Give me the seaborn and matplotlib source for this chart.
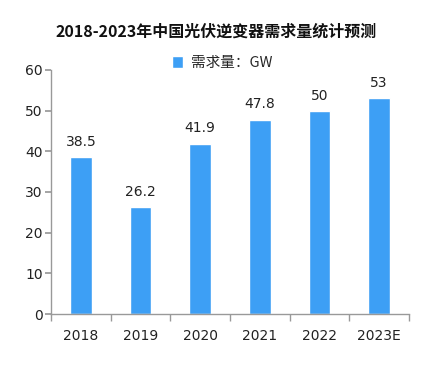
import matplotlib
matplotlib.use("Agg")
import matplotlib.pyplot as plt
import seaborn as sns
import pandas as pd
import numpy as np
from matplotlib.ticker import FixedLocator

years = ["2018", "2019", "2020", "2021", "2022", "2023E"]
demand = [38.5, 26.2, 41.9, 47.8, 50, 53]
value_labels = ["38.5", "26.2", "41.9", "47.8", "50", "53"]
series_name = "需求量：GW"
title = "2018-2023年中国光伏逆变器需求量统计预测"

sns.set_theme(style="white")
plt.rcParams['font.family'] = ['Noto Sans CJK SC', 'DejaVu Sans']

df = pd.DataFrame({"year": years, "demand": demand})

fig = plt.figure(figsize=(4.32, 3.69), dpi=100)
ax = fig.add_axes([51/432, 1-314/369, (409-51)/432, (314-70)/369])

sns.barplot(data=df, x="year", y="demand", color="#3d9ff5", width=0.36,
            saturation=1, ax=ax, label=series_name)

for i, (v, lab) in enumerate(zip(demand, value_labels)):
    ax.text(i, v + 2.0, lab, ha="center", va="bottom", fontsize=10,
            color="#222222", family="DejaVu Sans")

ax.set_ylim(0, 60)
ax.set_xlim(-0.5, 5.5)
ax.set_yticks(range(0, 61, 10))
ax.set_xlabel("")
ax.set_ylabel("")

for s in ["top", "right"]:
    ax.spines[s].set_visible(False)
for s in ["left", "bottom"]:
    ax.spines[s].set_color("#999999")
    ax.spines[s].set_linewidth(1)

ax.tick_params(axis="y", which="major", left=True, length=4, color="#999999",
               labelsize=10, labelcolor="#222222", pad=2)
ax.tick_params(axis="x", which="major", bottom=False, length=0,
               labelsize=10, labelcolor="#222222", pad=11)
ax.xaxis.set_minor_locator(FixedLocator(np.arange(-0.5, 6.0, 1.0)))
ax.tick_params(axis="x", which="minor", bottom=True, length=5, color="#999999")
for t in ax.get_xticklabels() + ax.get_yticklabels():
    t.set_family("DejaVu Sans")

fig.suptitle(title, y=1-32/369, fontsize=11.5, fontweight="bold",
             color="#111111", va="center")
fig.legend(handles=ax.get_legend_handles_labels()[0],
           labels=[series_name], loc="center", bbox_to_anchor=(222/432, 1-63/369),
           frameon=False, fontsize=10.5, handlelength=0.8, handleheight=0.8,
           handletextpad=0.5)
if ax.get_legend():
    ax.get_legend().remove()

fig.savefig("out.png", dpi=100)
